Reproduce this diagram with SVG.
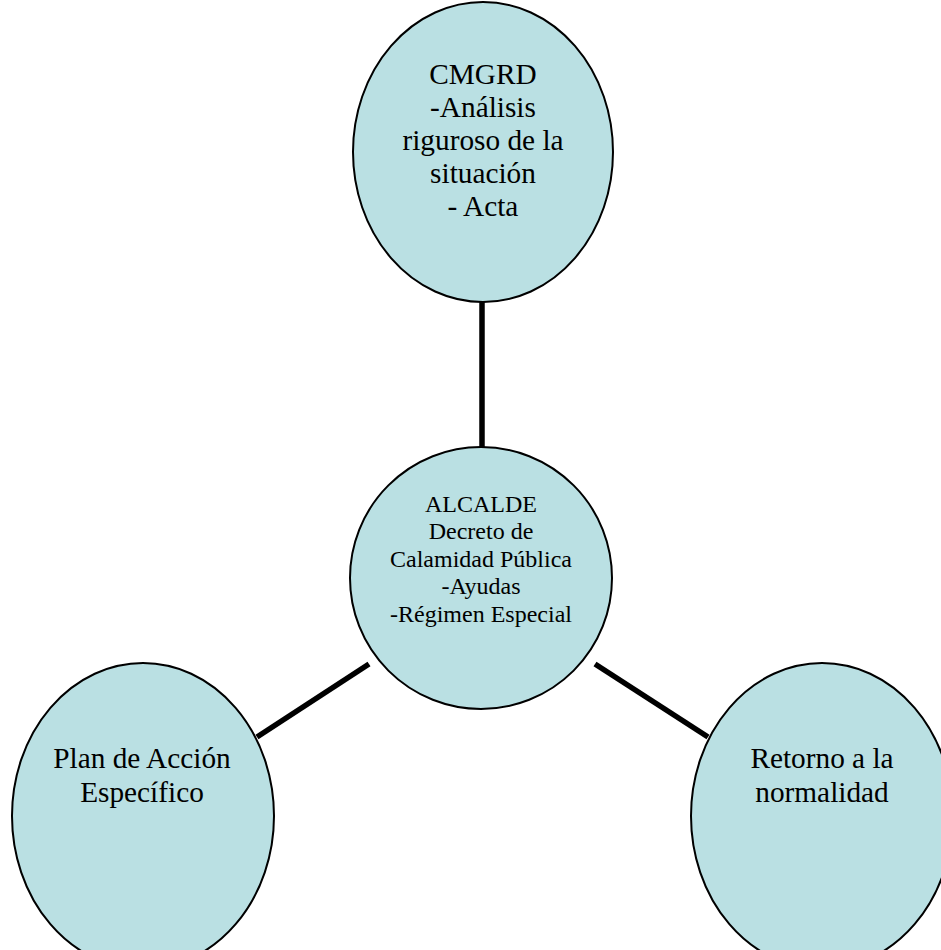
<svg xmlns="http://www.w3.org/2000/svg" width="941" height="950" viewBox="0 0 941 950">
<style>
.node{fill:#BAE0E3;stroke:#000;stroke-width:2}
.big{font-family:"Liberation Serif","Times New Roman",serif;font-size:29.3px;fill:#000;text-anchor:middle}
.mid{font-family:"Liberation Serif","Times New Roman",serif;font-size:24px;fill:#000;text-anchor:middle}
.conn{stroke:#000;stroke-width:5.5;fill:none}
</style>
<rect width="941" height="950" fill="#fff"/>
<g id="connectors">
<line class="conn" x1="482" y1="300" x2="482" y2="449"/>
<line class="conn" x1="257" y1="737" x2="369" y2="664"/>
<line class="conn" x1="595" y1="664" x2="708" y2="737"/>
</g>
<g id="cmgrd">
<ellipse class="node" cx="483" cy="152" rx="130" ry="150"/>
<text class="big" x="483" y="84">CMGRD</text>
<text class="big" x="483" y="117">-Análisis</text>
<text class="big" x="483" y="150">riguroso de la</text>
<text class="big" x="483" y="183">situación</text>
<text class="big" x="483" y="216">- Acta</text>
</g>
<g id="alcalde">
<ellipse class="node" cx="481" cy="578" rx="131" ry="131"/>
<text class="mid" x="481" y="512">ALCALDE</text>
<text class="mid" x="481" y="539">Decreto de</text>
<text class="mid" x="481" y="567">Calamidad Pública</text>
<text class="mid" x="481" y="594">-Ayudas</text>
<text class="mid" x="481" y="622">-Régimen Especial</text>
</g>
<g id="plan">
<ellipse class="node" cx="143" cy="816" rx="131" ry="153"/>
<text class="big" x="142" y="768">Plan de Acción</text>
<text class="big" x="142" y="802">Específico</text>
</g>
<g id="retorno">
<ellipse class="node" cx="822" cy="816" rx="131" ry="153"/>
<text class="big" x="822" y="768">Retorno a la</text>
<text class="big" x="822" y="802">normalidad</text>
</g>
</svg>
